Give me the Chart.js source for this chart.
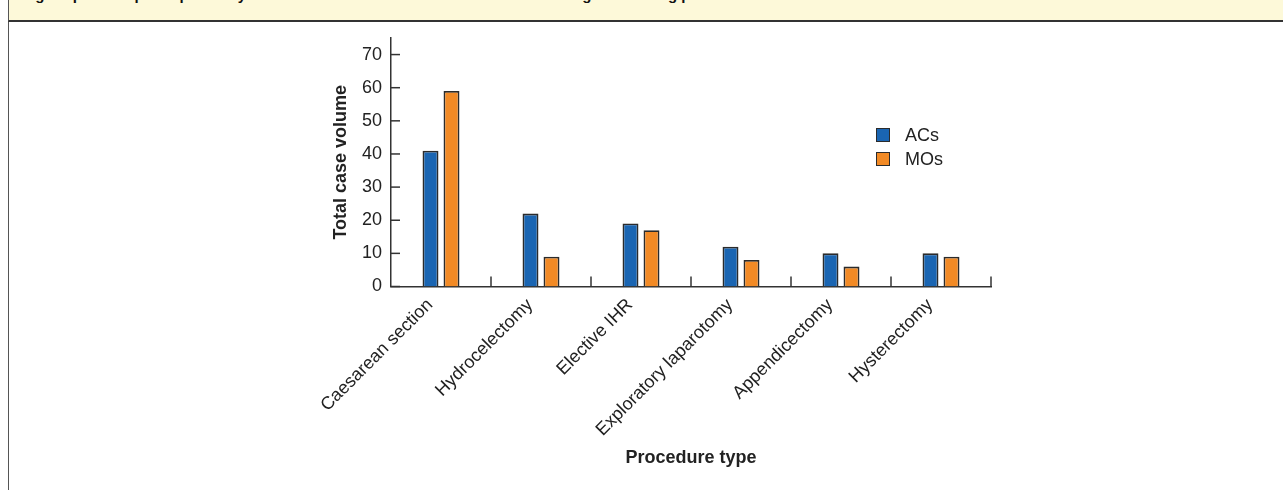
<!DOCTYPE html>
<html>
<head>
<meta charset="utf-8">
<script src="https://cdn.jsdelivr.net/npm/chart.js@4"></script>
<style>
	html, body { margin: 0; padding: 0; background: #fff; }
	body { width: 1283px; height: 490px; position: relative; overflow: hidden; font-family: 'Liberation Sans', Arial, sans-serif; }
	#frame { position: absolute; left: 8px; top: 0; width: 1275px; height: 490px; border-left: 1px solid #555; }
	#banner { position: absolute; left: 8px; top: 0; width: 1275px; height: 20px; background: #fdf9d9; border-left: 1px solid #555; border-bottom: 2px solid #333; overflow: hidden; z-index: 2; }
	#banner span { position: absolute; left: 13px; top: -14px; font-weight: bold; font-size: 15px; line-height: 18px; color: #111; white-space: nowrap; }
	canvas { position: absolute; left: 0; top: 0; }
	#legend { position: absolute; left: 876px; top: 123px; font-size: 18px; color: #222; z-index: 2; }
	#legend div { height: 24px; display: flex; align-items: center; }
	#legend i { display: inline-block; width: 12px; height: 12px; border: 1.5px solid #2b2b2b; margin-right: 15px; }
</style>
</head>
<body>
<div id="frame"></div>
<div id="banner"><span>Fig 1 Operative participation by associate clinicians and medical officers during the training period</span></div>
<canvas id="chart" width="1283" height="490"></canvas>
<div id="legend"></div>
<script>
const procedures = ['Caesarean section', 'Hydrocelectomy', 'Elective IHR', 'Exploratory laparotomy', 'Appendicectomy', 'Hysterectomy']
const acValues = [41, 22, 19, 12, 10, 10]
const moValues = [59, 9, 17, 8, 6, 9]
const seriesNames = ['ACs', 'MOs']
const seriesColors = ['#1a65b2', '#f28a25']
const yTicks = [0, 10, 20, 30, 40, 50, 60, 70]

const font = 'Liberation Sans, Arial, sans-serif'

// legend
const legend = document.getElementById('legend')
seriesNames.forEach((name, i) => {
	const row = document.createElement('div')
	row.innerHTML = `<i style="background:${seriesColors[i]}"></i><span>${name}</span>`
	legend.appendChild(row)
})

// tick marks pointing into the plot
const innerTicks = {
	id: 'innerTicks',
	afterDraw(chart) {
		const { ctx, chartArea, scales } = chart
		ctx.save()
		ctx.strokeStyle = '#333'
		ctx.lineWidth = 1.5
		yTicks.forEach(v => {
			const y = scales.y.getPixelForValue(v)
			ctx.beginPath()
			ctx.moveTo(chartArea.left, y)
			ctx.lineTo(chartArea.left + 9, y)
			ctx.stroke()
		})
		const w = (chartArea.right - chartArea.left) / procedures.length
		for (let i = 1; i <= procedures.length; i++) {
			const x = chartArea.left + i * w
			ctx.beginPath()
			ctx.moveTo(x, chartArea.bottom)
			ctx.lineTo(x, chartArea.bottom - 10)
			ctx.stroke()
		}
		ctx.restore()
	},
}

const ctx = document.getElementById('chart').getContext('2d')
new Chart(ctx, {
	type: 'bar',
	data: {
		labels: procedures,
		datasets: [
			{
				label: seriesNames[0],
				data: acValues,
				backgroundColor: seriesColors[0],
				borderColor: '#2b2b2b',
				borderWidth: 1.8,
			},
			{
				label: seriesNames[1],
				data: moValues,
				backgroundColor: seriesColors[1],
				borderColor: '#2b2b2b',
				borderWidth: 1.8,
			},
		],
	},
	options: {
		responsive: false,
		animation: false,
		layout: { padding: { left: 320, right: 292, top: 38, bottom: 0 } },
		datasets: { bar: { categoryPercentage: 0.42, barPercentage: 0.76 } },
		plugins: {
			legend: { display: false },
			tooltip: { enabled: false },
		},
		scales: {
			x: {
				grid: { display: false },
				border: { color: '#333', width: 1.5 },
				ticks: {
					autoSkip: false,
					minRotation: 45,
					maxRotation: 45,
					padding: 0,
					labelOffset: -11,
					color: '#222',
					font: { family: font, size: 18 },
				},
				title: {
					display: true,
					text: 'Procedure type',
					color: '#222',
					padding: 21,
					font: { family: font, size: 18, weight: 'bold' },
				},
				afterFit: scale => { scale.height = 203.5 },
			},
			y: {
				min: 0,
				max: 75,
				grid: { display: false },
				border: { color: '#333', width: 1.5 },
				afterBuildTicks: scale => { scale.ticks = yTicks.map(v => ({ value: v })) },
				ticks: {
					padding: 1,
					color: '#222',
					font: { family: font, size: 18 },
				},
				title: {
					display: true,
					text: 'Total case volume',
					color: '#222',
					padding: 10,
					font: { family: font, size: 18, weight: 'bold' },
				},
				afterFit: scale => { scale.width = 71 },
			},
		},
	},
	plugins: [innerTicks],
})
</script>
</body>
</html>
